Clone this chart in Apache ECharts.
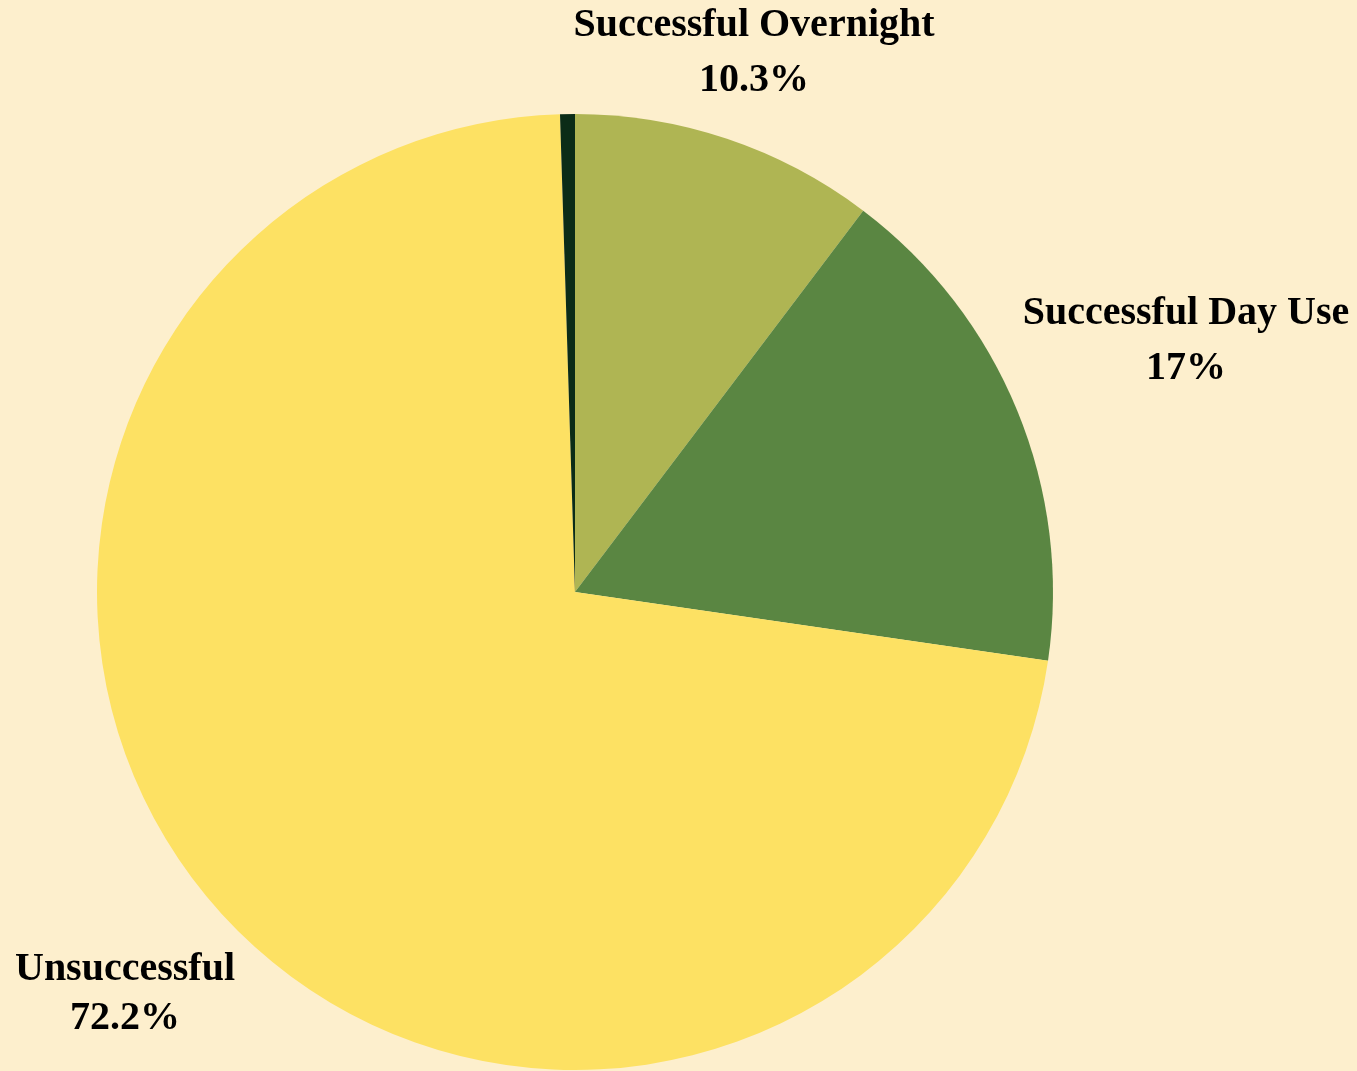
<!DOCTYPE html>
<html>
<head>
<meta charset="utf-8">
<script src="https://cdn.jsdelivr.net/npm/echarts@6/dist/echarts.min.js"></script>
<style>
html,body{margin:0;padding:0;background:#FDEFCD;}
#chart{width:1357px;height:1071px;}
</style>
</head>
<body>
<div id="chart"></div>
<script>
const categories = ["Successful Overnight", "Successful Day Use", "Unsuccessful", "Other"];
const percents = [10.3, 17, 72.2, 0.5];
const sliceColors = ["#AFB553", "#5A8642", "#FDE163", "#0B2C17"];
const showLabel = [true, true, true, false];

// label anchor positions (style, not data)
const labelAnchors = [
  {x: 754, y: 53, lh: 55},
  {x: 1186, y: 341, lh: 55},
  {x: 125, y: 994, lh: 49},
  {x: 575, y: 60, lh: 55}
];

const chart = echarts.init(document.getElementById('chart'), null, {renderer: 'canvas'});
const data = categories.map((name, i) => ({
  name: name,
  value: percents[i],
  itemStyle: {color: sliceColors[i]},
  label: {show: showLabel[i], lineHeight: labelAnchors[i].lh}
}));

chart.setOption({
  backgroundColor: '#FDEFCD',
  animation: false,
  series: [{
    type: 'pie',
    center: [575, 592],
    radius: [0, 478],
    startAngle: 90,
    clockwise: true,
    avoidLabelOverlap: false,
    data: data,
    itemStyle: {borderWidth: 0},
    emphasis: {disabled: true},
    label: {
      position: 'outside',
      formatter: p => p.name + '\n' + p.value + '%',
      fontFamily: '"Liberation Serif", serif',
      fontWeight: 'bold',
      fontSize: 40,
      color: '#000000',
      align: 'center'
    },
    labelLine: {show: false},
    labelLayout: function (params) {
      const a = labelAnchors[params.dataIndex];
      return {x: a.x, y: a.y, align: 'center', verticalAlign: 'middle'};
    }
  }]
});
</script>
</body>
</html>
